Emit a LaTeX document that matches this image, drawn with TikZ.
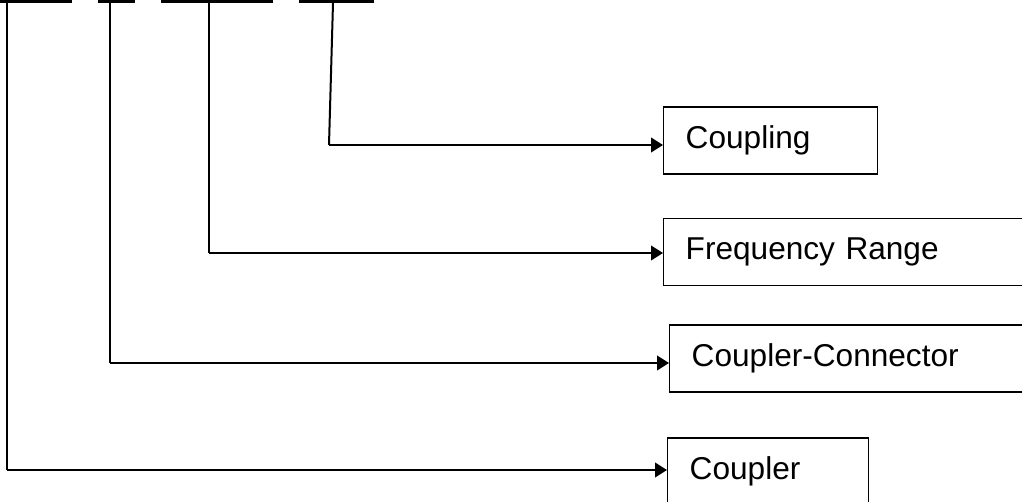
\documentclass[tikz,border=0pt]{standalone}
\usepackage{fontspec}
\setmainfont{Liberation Sans}
\usetikzlibrary{positioning, arrows.meta}

\tikzset{
  partbox/.style={draw, line width=1.1pt, anchor=west, minimum height=50.25pt,
                  inner xsep=16.5pt, align=left,
                  font=\fontsize{23.7}{28}\selectfont},
  codebar/.style={line width=2.4pt},
  leader/.style={line width=1.5pt},
  pointer/.style={leader, -{Triangle[length=9pt, width=11pt]}},
}

\begin{document}
\begin{tikzpicture}[x=0.75pt, y=-0.75pt]
  \useasboundingbox (0,0) rectangle (1022,502);

  % code segments along the top
  \foreach \a/\b [count=\i] in {0/72, 98/135, 161/273, 299/374}{
    \coordinate (bar\i a) at (\a,1);
    \coordinate (bar\i b) at (\b,1);
    \draw[codebar] (bar\i a) -- (bar\i b);
  }

  % boxes
  \node[partbox, text width=127.5pt] (coupling) at (663,140.5) {Coupling};
  \node[partbox, text width=244.5pt] (range) at (663,252) {Frequency Range};
  \node[partbox, text width=237pt] (connector) at (669,358.5) {Coupler-Connector};
  \node[partbox, text width=117.75pt] (coupler) at (667,471.5) {Coupler};

  % leaders from the segments
  \coordinate (top4) at (333,3);
  \coordinate (turn4) at (329,145);
  \coordinate (top3) at (209,2);
  \coordinate (turn3) at (209,253);
  \coordinate (top2) at (110,2);
  \coordinate (turn2) at (110,363);
  \coordinate (top1) at (7,2);
  \coordinate (turn1) at (7,470);

  \draw[leader] (top4) -- (turn4);
  \draw[pointer] (turn4) -- (turn4 -| coupling.west);
  \draw[leader] (top3) -- (turn3);
  \draw[pointer] (turn3) -- (turn3 -| range.west);
  \draw[leader] (top2) -- (turn2);
  \draw[pointer] (turn2) -- (turn2 -| connector.west);
  \draw[leader] (top1) -- (turn1);
  \draw[pointer] (turn1) -- (turn1 -| coupler.west);
\end{tikzpicture}
\end{document}
